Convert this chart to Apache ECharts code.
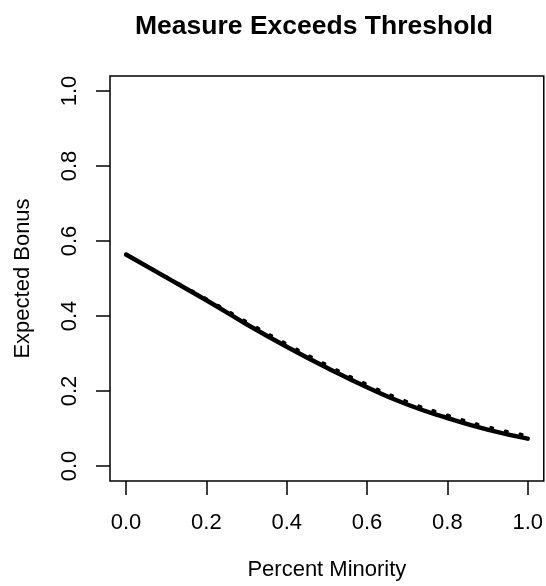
<!DOCTYPE html>
<html><head><meta charset="utf-8">
<script src="https://cdn.jsdelivr.net/npm/echarts@6/dist/echarts.min.js"></script>
<style>html,body{margin:0;padding:0;background:#fff}#c{width:546px;height:586px}</style>
</head><body><div id="c"></div>
<script>
const percentMinority = [0.0, 0.1, 0.2, 0.3, 0.4, 0.5, 0.6, 0.7, 0.8, 0.9, 1.0];
const solidBonus  = [0.564, 0.503, 0.442, 0.378, 0.318, 0.262, 0.210, 0.164, 0.128, 0.097, 0.073];
const dottedBonus = [0.564, 0.505, 0.446, 0.385, 0.326, 0.270, 0.218, 0.172, 0.136, 0.105, 0.081];
const xTicks = [0.0, 0.2, 0.4, 0.6, 0.8, 1.0];
const yTicks = [0.0, 0.2, 0.4, 0.6, 0.8, 1.0];

const font = 'Liberation Sans, Arial, Helvetica, sans-serif';
const chart = echarts.init(document.getElementById('c'), null, {renderer: 'canvas'});
chart.setOption({
  animation: false,
  title: {
    text: 'Measure Exceeds Threshold',
    left: 130, top: 8,
    textStyle: {fontFamily: font, fontSize: 26.5, fontWeight: 'bold', color: '#000'}
  },
  grid: {left: 110, right: 1, top: 76, bottom: 105, show: true, borderColor: '#000', borderWidth: 1.5, backgroundColor: 'transparent'},
  xAxis: {
    type: 'value', min: -0.04, max: 1.04,
    name: 'Percent Minority', nameLocation: 'middle', nameGap: 78,
    nameTextStyle: {fontFamily: font, fontSize: 22, color: '#000'},
    axisLine: {show: false, onZero: false},
    splitLine: {show: false},
    axisTick: {show: true, inside: false, length: 14, customValues: xTicks, lineStyle: {color: '#000', width: 1.5}},
    axisLabel: {show: true, margin: 31, customValues: xTicks, fontFamily: font, fontSize: 22, color: '#000',
      formatter: v => v.toFixed(1)}
  },
  yAxis: {
    type: 'value', min: -0.04, max: 1.04,
    name: 'Expected Bonus', nameLocation: 'middle', nameGap: 76,
    nameTextStyle: {fontFamily: font, fontSize: 22, color: '#000'},
    axisLine: {show: false, onZero: false},
    splitLine: {show: false},
    axisTick: {show: true, inside: false, length: 14, customValues: yTicks, lineStyle: {color: '#000', width: 1.5}},
    axisLabel: {show: true, rotate: 90, margin: 29, customValues: yTicks, fontFamily: font, fontSize: 22, color: '#000',
      formatter: v => v.toFixed(1)}
  },
  series: [
    {type: 'line', name: 'dotted', data: percentMinority.map((x, i) => [x, dottedBonus[i]]),
      smooth: true, symbol: 'none', lineStyle: {color: '#000', width: 3, type: [2, 13], cap: 'round'}},
    {type: 'line', name: 'solid', data: percentMinority.map((x, i) => [x, solidBonus[i]]),
      smooth: true, symbol: 'none', lineStyle: {color: '#000', width: 4.5, cap: 'round'}}
  ]
});
</script></body></html>
